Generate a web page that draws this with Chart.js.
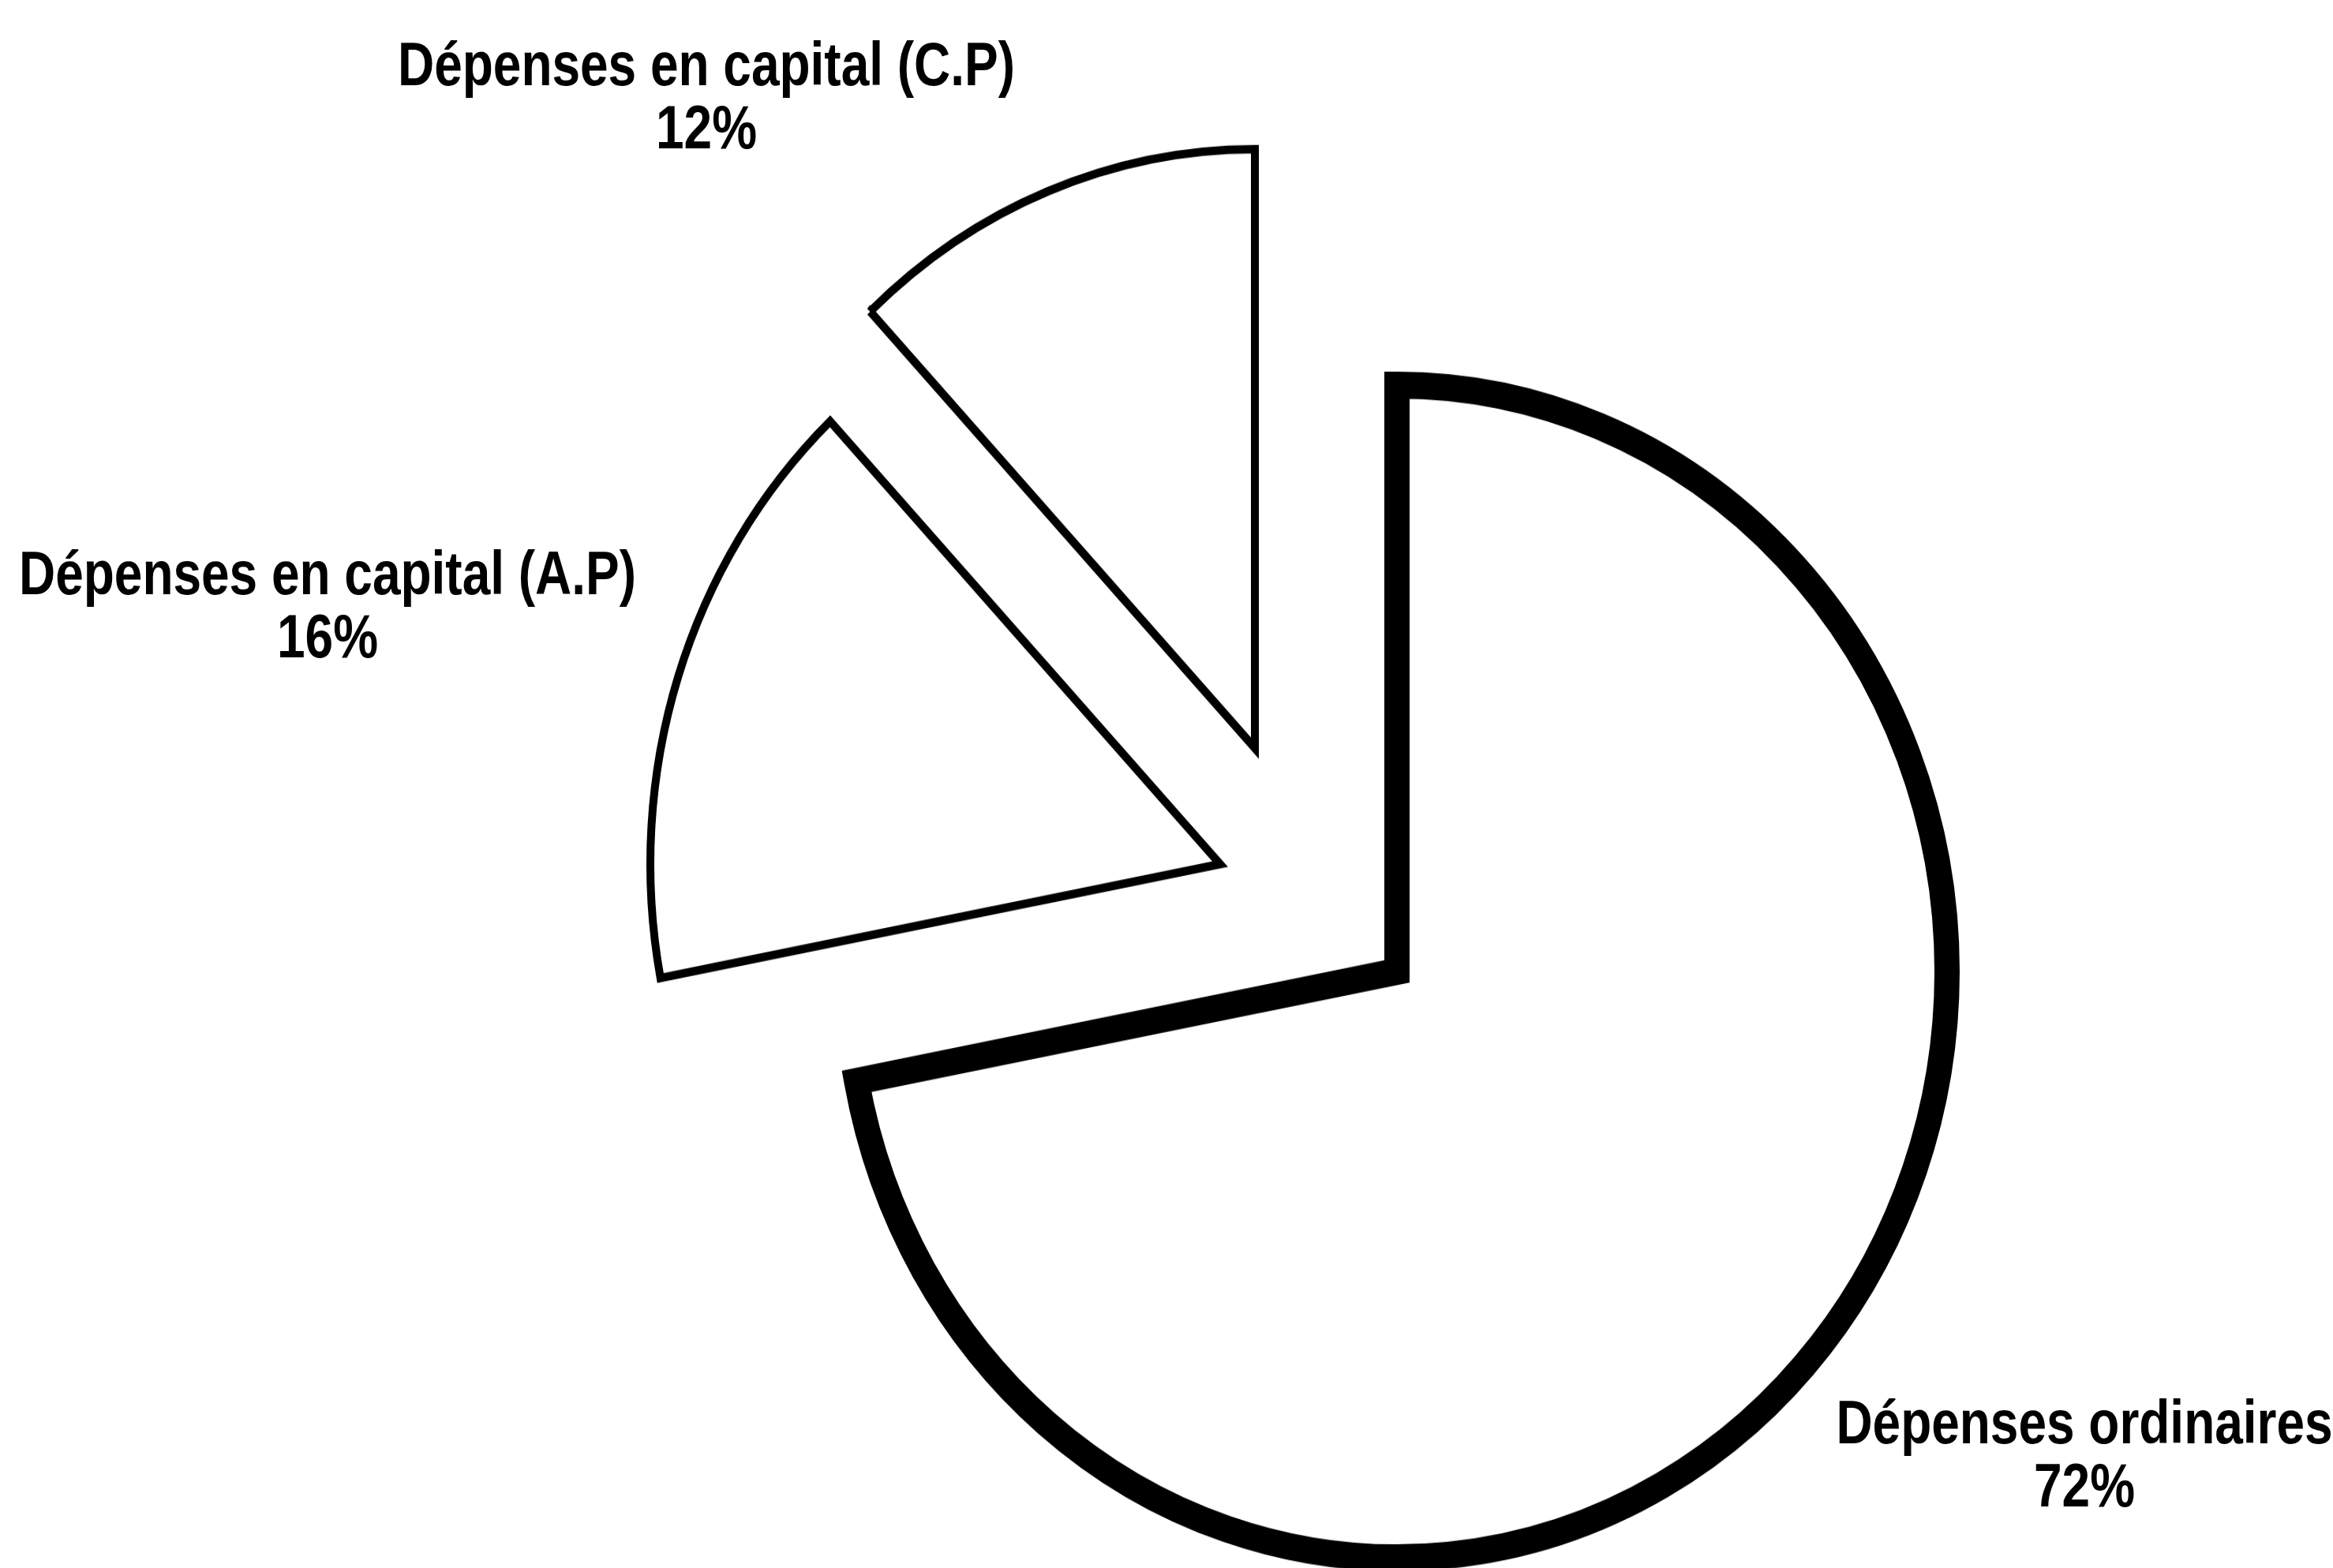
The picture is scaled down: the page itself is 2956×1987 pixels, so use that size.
<!DOCTYPE html>
<html>
<head>
<meta charset="utf-8">
<script src="https://cdn.jsdelivr.net/npm/chart.js@4.4.1/dist/chart.umd.min.js"></script>
<style>
  html, body { margin:0; padding:0; background:#ffffff; }
  body { width:2956px; height:1987px; overflow:hidden; position:relative; }
  .pie { position:absolute; transform-origin:50% 50%; }
  .pie canvas { display:block; }
  .lbl { position:absolute; width:1200px; text-align:center; white-space:nowrap;
         font-family:"Liberation Sans", Arial, sans-serif; font-weight:bold;
         font-size:78px; line-height:80px; color:#000;
         transform:scaleX(0.82); transform-origin:50% 0; }
</style>
</head>
<body>
<script>
// ---- data ----
const categories = ['Dépenses ordinaires', 'Dépenses en capital (A.P)', 'Dépenses en capital (C.P)'];
const shares = [72, 16, 12];
const percentLabels = ['72%', '16%', '12%'];

// ---- layout (exploded pie: each slice drawn by its own pie, positioned here) ----
const sliceCenters = [[1770, 1231], [1546, 1095], [1590, 948]];
const sliceRadii = [697, 722, 712];
const sliceBorders = [32, 10, 10];
const stretchY = 1.066;
const labelCenters = [[2641, 1762], [415, 686], [895, 41]];

sliceCenters.forEach(([cx, cy], i) => {
  const size = 2 * (sliceRadii[i] + sliceBorders[i]) + 60;
  const box = document.createElement('div');
  box.className = 'pie';
  box.style.width = size + 'px';
  box.style.height = size + 'px';
  box.style.left = (cx - size / 2) + 'px';
  box.style.top = (cy - size / 2) + 'px';
  box.style.transform = 'scaleY(' + stretchY + ')';
  const cv = document.createElement('canvas');
  box.appendChild(cv);
  document.body.appendChild(box);

  new Chart(cv, {
    type: 'pie',
    data: {
      labels: categories,
      datasets: [{
        data: shares,
        radius: sliceRadii[i],
        backgroundColor: shares.map((_, j) => j === i ? '#ffffff' : 'rgba(0,0,0,0)'),
        borderColor: shares.map((_, j) => j === i ? '#000000' : 'rgba(0,0,0,0)'),
        borderWidth: shares.map((_, j) => j === i ? sliceBorders[i] : 0),
        borderJoinStyle: 'miter',
        borderAlign: 'center'
      }]
    },
    options: {
      responsive: true,
      maintainAspectRatio: false,
      animation: false,
      radius: sliceRadii[i],
      layout: { padding: 0 },
      events: [],
      plugins: { legend: { display: false }, tooltip: { enabled: false }, title: { display: false } }
    }
  });
});

categories.forEach((name, i) => {
  const d = document.createElement('div');
  d.className = 'lbl';
  d.style.left = (labelCenters[i][0] - 600) + 'px';
  d.style.top = labelCenters[i][1] + 'px';
  d.appendChild(document.createTextNode(name));
  d.appendChild(document.createElement('br'));
  d.appendChild(document.createTextNode(percentLabels[i]));
  document.body.appendChild(d);
});
</script>
</body>
</html>
